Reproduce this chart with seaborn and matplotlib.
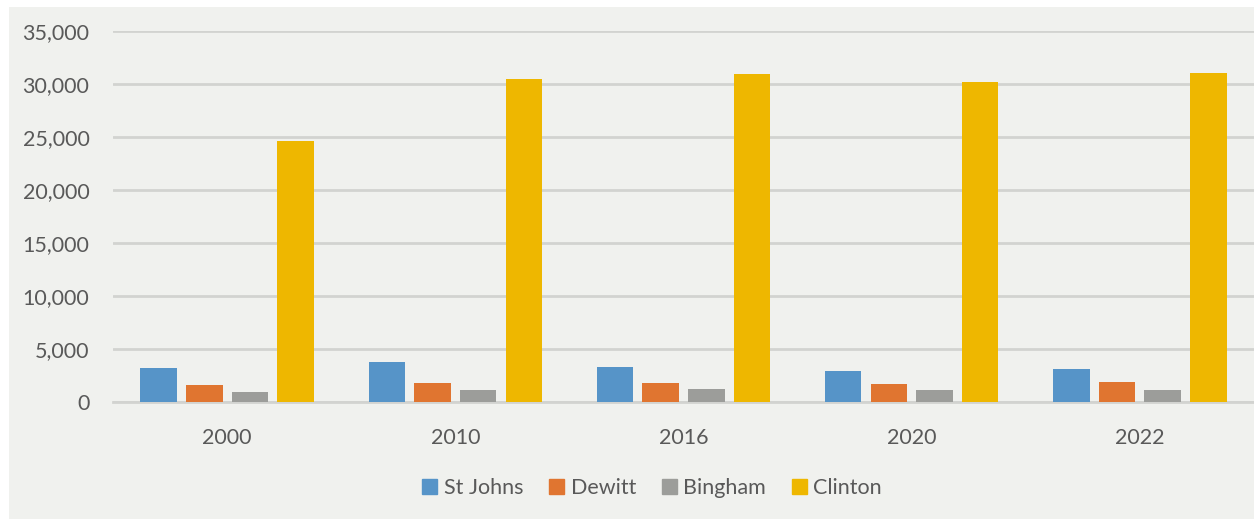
import matplotlib
matplotlib.use("Agg")
import matplotlib.pyplot as plt
import matplotlib.patches as mpatches
import seaborn as sns
import pandas as pd
from matplotlib.ticker import FuncFormatter

years = ["2000", "2010", "2016", "2020", "2022"]
st_johns = [3170, 3790, 3300, 2950, 3110]
dewitt = [1650, 1800, 1800, 1740, 1900]
bingham = [900, 1090, 1250, 1120, 1120]
clinton = [24620, 30440, 30915, 30160, 31070]
series_names = ["St Johns", "Dewitt", "Bingham", "Clinton"]
colors = ["#5694C8", "#E07530", "#9C9D9A", "#EEB700"]

rows = []
for name, vals in zip(series_names, [st_johns, dewitt, bingham, clinton]):
    for y, v in zip(years, vals):
        rows.append({"Year": y, "Series": name, "Value": v})
df = pd.DataFrame(rows)

sns.set_theme(style="white")
plt.rcParams["font.family"] = ["Lato", "DejaVu Sans"]

W, H = 1254, 520
fig = plt.figure(figsize=(W / 100, H / 100), dpi=100, facecolor="white")
bg = "#F0F1EE"
fig.patches.append(mpatches.Rectangle((9 / W, 1 - 519 / H), (W - 9) / W, (519 - 7) / H,
                                      transform=fig.transFigure, facecolor=bg,
                                      edgecolor="none", zorder=-10))
ax = fig.add_axes([113 / W, 1 - 402 / H, (W - 113) / W, (402 - 31) / H])
ax.set_facecolor(bg)

sns.barplot(data=df, x="Year", y="Value", hue="Series", order=years,
            hue_order=series_names, palette=colors, width=0.8, gap=0.2,
            linewidth=0, ax=ax, legend=False, saturation=1, zorder=3)

ax.set_ylim(0, 35000)
ax.set_xlim(-0.5, 4.5)
ax.set_yticks(range(0, 35001, 5000))
ax.yaxis.set_major_formatter(FuncFormatter(lambda v, p: f"{int(v):,}"))
ax.grid(axis="y", color="#D2D3D0", linewidth=2, zorder=0)
ax.grid(axis="x", visible=False)
for s in ["top", "right", "left"]:
    ax.spines[s].set_visible(False)
ax.spines["bottom"].set_color("#D2D3D0")
ax.spines["bottom"].set_linewidth(2)
ax.tick_params(axis="both", length=0, labelsize=15.5, colors="#595959")
ax.tick_params(axis="y", pad=17)
ax.tick_params(axis="x", pad=19)
ax.set_xlabel("")
ax.set_ylabel("")

handles = [mpatches.Patch(color=c, label=n) for c, n in zip(colors, series_names)]
fig.legend(handles=handles, loc="center", bbox_to_anchor=(0.52, 1 - 488 / H), ncol=4,
           frameon=False, fontsize=15.5, labelcolor="#595959", handlelength=0.7,
           handleheight=0.7, handletextpad=0.3, columnspacing=1.2)

fig.savefig("out.png", dpi=100, facecolor="white")
